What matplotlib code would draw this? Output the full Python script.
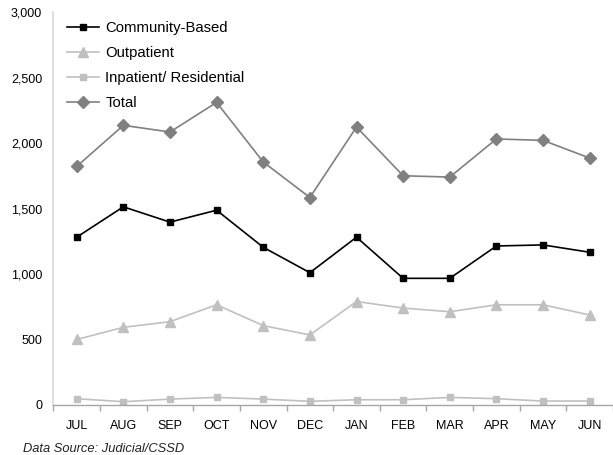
import matplotlib
matplotlib.use("Agg")
import matplotlib.pyplot as plt
from matplotlib.ticker import FuncFormatter, FixedLocator

plt.rcParams['font.family'] = ['Liberation Sans', 'DejaVu Sans']

months = ["JUL", "AUG", "SEP", "OCT", "NOV", "DEC",
          "JAN", "FEB", "MAR", "APR", "MAY", "JUN"]
community_based = [1281, 1513, 1396, 1487, 1204, 1010, 1281, 967, 967, 1214, 1222, 1166]
outpatient = [500, 593, 636, 765, 606, 535, 790, 740, 712, 765, 765, 687]
inpatient_residential = [48, 25, 45, 58, 45, 28, 40, 40, 58, 48, 30, 30]
total = [1821, 2135, 2084, 2310, 1855, 1584, 2122, 1750, 1740, 2031, 2020, 1885]

fig = plt.figure(figsize=(6.13, 4.55), dpi=100)
ax = fig.add_axes([0.0871, 0.1099, 0.9129, 0.8637])

x = list(range(len(months)))
ax.plot(x, community_based, color="black", lw=1.2, marker="s", ms=5,
        label="Community-Based")
ax.plot(x, outpatient, color="#c0c0c0", lw=1.2, marker="^", ms=7,
        label="Outpatient")
ax.plot(x, inpatient_residential, color="#c0c0c0", lw=1.2, marker="s", ms=5,
        label="Inpatient/ Residential")
ax.plot(x, total, color="#808080", lw=1.2, marker="D", ms=6,
        label="Total")

ax.set_xlim(-0.5, len(months) - 0.5)
ax.set_ylim(0, 3000)
ax.set_yticks(range(0, 3001, 500))
ax.yaxis.set_major_formatter(FuncFormatter(lambda v, p: f"{int(v):,}"))
ax.tick_params(axis="y", length=0, labelsize=9, pad=8, colors="black")

ax.set_xticks(x)
ax.set_xticklabels(months)
ax.xaxis.set_minor_locator(FixedLocator([i + 0.5 for i in range(-1, len(months))]))
ax.tick_params(axis="x", which="major", length=0, labelsize=9, pad=11)
ax.tick_params(axis="x", which="minor", length=4, color="#a6a6a6", width=1)

for side in ("top", "right"):
    ax.spines[side].set_visible(False)
ax.spines["left"].set_color("#d9d9d9")
ax.spines["left"].set_linewidth(1.2)
ax.spines["bottom"].set_color("#a6a6a6")
ax.spines["bottom"].set_linewidth(1)

leg = ax.legend(loc="upper left", bbox_to_anchor=(0.009, 1.0), frameon=False,
                fontsize=10.7, handlelength=2.1, handletextpad=0.45,
                labelspacing=0.74, borderaxespad=0.2)

fig.text(0.037, 0.007, "Data Source: Judicial/CSSD", fontsize=9.3,
         style="italic", color="#222222")

fig.savefig("out.png", dpi=100)
